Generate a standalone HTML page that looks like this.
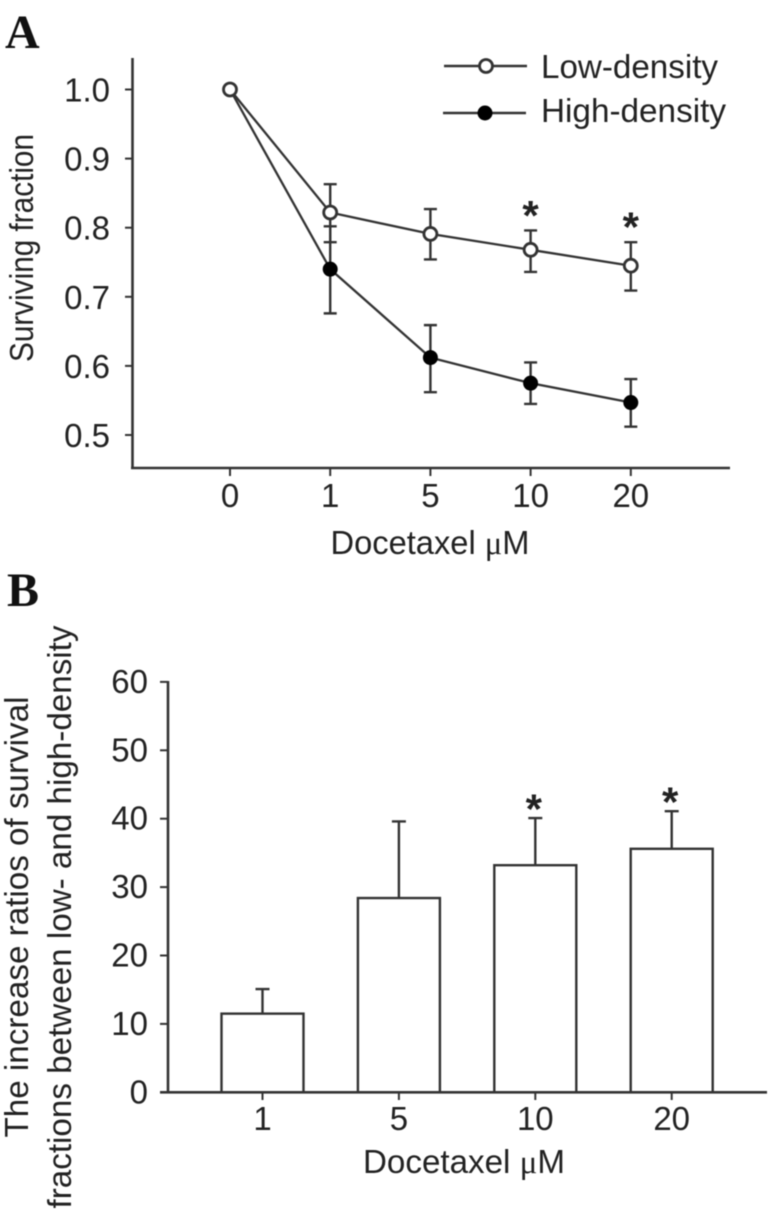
<!DOCTYPE html>
<html>
<head>
<meta charset="utf-8">
<title>Surviving fraction and increase ratios versus Docetaxel concentration</title>
<style>
html,body{margin:0;padding:0;background:#fff;width:781px;height:1221px;overflow:hidden}
svg{display:block}
text{font-family:"Liberation Sans",sans-serif;fill:#222}
.panel{font-family:"Liberation Serif",serif;font-weight:bold;font-size:48px;fill:#111}
.mu{font-family:"Liberation Serif",serif}
</style>
</head>
<body>
<svg id="figure" xmlns="http://www.w3.org/2000/svg" width="781" height="1221" viewBox="0 0 781 1221">
  <g id="root" style="filter:blur(0.45px)">
    <text class="panel" x="5" y="48">A</text>
    <text class="panel" x="7" y="606">B</text>

    <g id="chartA"></g>
    <text x="33" y="248" font-size="33" text-anchor="middle" transform="rotate(-90 33 248)" textLength="228" lengthAdjust="spacingAndGlyphs">Surviving fraction</text>
    <text x="430" y="554" font-size="33" text-anchor="middle" textLength="199" lengthAdjust="spacingAndGlyphs">Docetaxel <tspan class="mu">μ</tspan>M</text>

    <g>
      <line x1="444" y1="66" x2="527" y2="66" stroke="#333" stroke-width="2.5"/>
      <circle cx="486" cy="66" r="6.5" fill="#fff" stroke="#333" stroke-width="2.8"/>
      <text x="541" y="78" font-size="33" textLength="177" lengthAdjust="spacingAndGlyphs">Low-density</text>
      <line x1="443" y1="113" x2="526" y2="113" stroke="#333" stroke-width="2.5"/>
      <circle cx="485" cy="113" r="7.5" fill="#000"/>
      <text x="541" y="122" font-size="33" textLength="185" lengthAdjust="spacingAndGlyphs">High-density</text>
    </g>

    <g id="chartB"></g>
    <text x="28" y="917" font-size="33" text-anchor="middle" transform="rotate(-90 28 917)" textLength="441" lengthAdjust="spacingAndGlyphs">The increase ratios of survival</text>
    <text x="71" y="917" font-size="33" text-anchor="middle" transform="rotate(-90 71 917)" textLength="583" lengthAdjust="spacingAndGlyphs">fractions between low- and high-density</text>
    <text x="464" y="1173" font-size="33" text-anchor="middle" textLength="202" lengthAdjust="spacingAndGlyphs">Docetaxel <tspan class="mu">μ</tspan>M</text>
  </g>
</svg>
<script>
// Panel A data
var doseLabelsA = ['0', '1', '5', '10', '20'];
var yTicksA = [1.0, 0.9, 0.8, 0.7, 0.6, 0.5];
var lowDensity = [1.0, 0.822, 0.791, 0.768, 0.745];
var lowUpper = [1.0, 0.863, 0.827, 0.796, 0.779];
var lowLower = [1.0, 0.779, 0.754, 0.736, 0.709];
var highDensity = [1.0, 0.740, 0.612, 0.575, 0.547];
var highUpper = [1.0, 0.802, 0.659, 0.605, 0.581];
var highLower = [1.0, 0.676, 0.562, 0.545, 0.512];
var significantA = [false, false, false, true, true];

// Panel B data
var doseLabelsB = ['1', '5', '10', '20'];
var yTicksB = [0, 10, 20, 30, 40, 50, 60];
var ratioValues = [11.5, 28.4, 33.2, 35.6];
var ratioUpper = [15.1, 39.6, 40.1, 41.1];
var significantB = [false, false, true, true];

var NS = 'http://www.w3.org/2000/svg';
var STROKE = '#333';

function make(parent, tag, props) {
  var el = document.createElementNS(NS, tag);
  for (var k in props) { el.setAttribute(k, props[k]); }
  parent.appendChild(el);
  return el;
}
function xA(i) { return 230 + i * 100.2; }
function yA(v) { return 89.5 + (1 - v) * 691; }
function xB(i) { return 262.5 + i * 136.4; }
function yB(v) { return 1092.3 - v * 6.84; }

var a = document.getElementById('chartA');
var b = document.getElementById('chartB');
var el;

// Panel A axes
el = make(a, 'line', {x1: 132.5, y1: 58, x2: 132.5, y2: 469, stroke: STROKE, 'stroke-width': 2.6});


el = make(a, 'line', {x1: 131, y1: 468, x2: 730, y2: 468, stroke: STROKE, 'stroke-width': 2.6});



yTicksA.forEach(function (t) {
  var tick = make(a, 'line', {x1: 125, y1: yA(t), x2: 132, y2: yA(t), stroke: STROKE, 'stroke-width': 2});
  
  
  var label = make(a, 'text', {x: 110, y: yA(t) + 12, 'font-size': 33, 'text-anchor': 'end'});
  label.textContent = t.toFixed(1);
  
  
});
doseLabelsA.forEach(function (t, idx) {
  var tick = make(a, 'line', {x1: xA(idx), y1: 468, x2: xA(idx), y2: 476, stroke: STROKE, 'stroke-width': 2});
  
  
  var label = make(a, 'text', {x: xA(idx), y: 507, 'font-size': 33, 'text-anchor': 'middle'});
  label.textContent = t;
  
  
});

function errorBarsA(values, upper, lower, name) {
  values.forEach(function (v, idx) {
    if (upper[idx] === lower[idx]) { return; }
    var p = 'M' + xA(idx) + ' ' + yA(upper[idx]) + 'V' + yA(lower[idx]) +
      'M' + (xA(idx) - 6.5) + ' ' + yA(upper[idx]) + 'h13' +
      'M' + (xA(idx) - 6.5) + ' ' + yA(lower[idx]) + 'h13';
    var bar = make(a, 'path', {d: p, fill: 'none', stroke: STROKE, 'stroke-width': 2.4});
    
    
  });
}
function seriesA(values, name) {
  var pts = values.map(function (v, idx) { return xA(idx) + ',' + yA(v); }).join(' ');
  var line = make(a, 'polyline', {points: pts, fill: 'none', stroke: STROKE, 'stroke-width': 2.3});
  
  
}
function markersA(values, fill, markerRadius, strokeWidth, name) {
  values.forEach(function (v, idx) {
    var c = make(a, 'circle', {cx: xA(idx), cy: yA(v), r: markerRadius, fill: fill, stroke: strokeWidth ? STROKE : 'none', 'stroke-width': strokeWidth});
    
    
  });
}
errorBarsA(highDensity, highUpper, highLower, 'high-density-error-bar');
errorBarsA(lowDensity, lowUpper, lowLower, 'low-density-error-bar');
seriesA(highDensity, 'high-density');
seriesA(lowDensity, 'low-density');
markersA(highDensity, '#000', 7.5, 0, 'high-density');
markersA(lowDensity, '#fff', 6.5, 2.8, 'low-density');

significantA.forEach(function (s, idx) {
  if (!s) { return; }
  var star = make(a, 'text', {x: xA(idx), y: yA(lowUpper[idx]) - 0.5, 'font-size': 42, 'font-weight': 'bold', 'text-anchor': 'middle'});
  star.textContent = '*';
  
  
});

// Panel B bars first, then axes on top
var BAR_W = 82;
ratioValues.forEach(function (v, idx) {
  var err = make(b, 'path', {
    d: 'M' + xB(idx) + ' ' + yB(v) + 'V' + yB(ratioUpper[idx]) + 'M' + (xB(idx) - 7) + ' ' + yB(ratioUpper[idx]) + 'h14',
    fill: 'none', stroke: STROKE, 'stroke-width': 2.4
  });
  
  
  var bar = make(b, 'rect', {x: xB(idx) - BAR_W / 2, y: yB(v), width: BAR_W, height: yB(0) - yB(v), fill: '#fff', stroke: STROKE, 'stroke-width': 2.4});
  
  
});

el = make(b, 'line', {x1: 168, y1: 681, x2: 168, y2: 1093, stroke: STROKE, 'stroke-width': 2.6});


el = make(b, 'line', {x1: 160, y1: 1092.3, x2: 767, y2: 1092.3, stroke: STROKE, 'stroke-width': 2.6});



yTicksB.forEach(function (t) {
  var tick = make(b, 'line', {x1: 160, y1: yB(t), x2: 168, y2: yB(t), stroke: STROKE, 'stroke-width': 2});
  
  
  var label = make(b, 'text', {x: 148, y: yB(t) + 11, 'font-size': 33, 'text-anchor': 'end'});
  label.textContent = String(t);
  
  
});
doseLabelsB.forEach(function (t, idx) {
  var tick = make(b, 'line', {x1: xB(idx), y1: 1092, x2: xB(idx), y2: 1100, stroke: STROKE, 'stroke-width': 2});
  
  
  var label = make(b, 'text', {x: xB(idx), y: 1130, 'font-size': 33, 'text-anchor': 'middle'});
  label.textContent = t;
  
  
});
significantB.forEach(function (s, idx) {
  if (!s) { return; }
  var star = make(b, 'text', {x: xB(idx) - 1.5, y: yB(ratioUpper[idx]) + 5.5, 'font-size': 42, 'font-weight': 'bold', 'text-anchor': 'middle'});
  star.textContent = '*';
  
  
});
</script>
</body>
</html>
